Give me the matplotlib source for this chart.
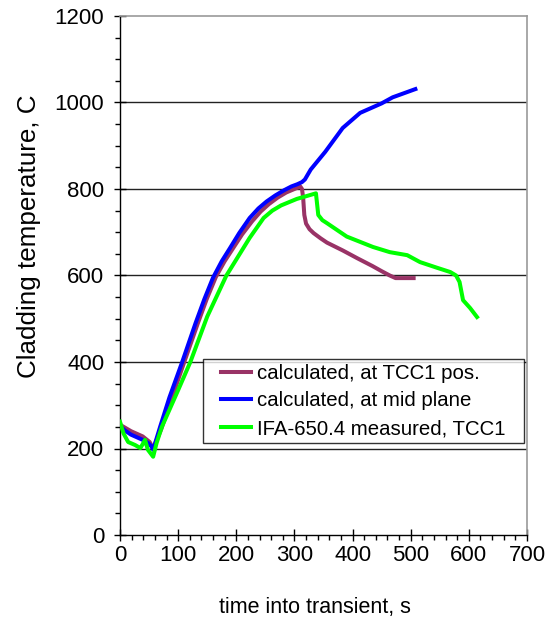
import matplotlib
matplotlib.use("Agg")
import matplotlib.pyplot as plt
from matplotlib.ticker import MultipleLocator
from matplotlib.legend_handler import HandlerLine2D

plt.rcParams['font.family'] = ['Liberation Sans', 'DejaVu Sans']

# calculated, at TCC1 pos.
tcc_x = [0, 19, 39, 51, 57, 71, 90, 110, 134, 149, 165, 180, 194, 210, 227, 242, 256, 271, 286, 300, 310, 313, 315, 317, 320, 326, 333, 345, 356, 383, 408, 434, 450, 464, 474, 505]
tcc_y = [255, 240, 228, 215, 200, 245, 320, 398, 490, 545, 597, 633, 662, 695, 725, 748, 765, 780, 792, 800, 806, 800, 780, 740, 720, 707, 698, 686, 676, 658, 640, 622, 610, 600, 594, 594]

# calculated, at mid plane
mid_x = [0, 8, 19, 29, 39, 49, 54, 57, 69, 85, 107, 130, 145, 160, 175, 189, 205, 223, 238, 252, 267, 282, 295, 305, 313, 318, 328, 353, 383, 413, 450, 469, 508]
mid_y = [252, 242, 232, 226, 220, 212, 205, 197, 250, 318, 400, 490, 545, 595, 633, 663, 698, 733, 755, 771, 785, 797, 806, 811, 816, 822, 845, 886, 941, 976, 998, 1012, 1031]

# IFA-650.4 measured, TCC1
meas_x = [0, 6, 14, 26, 35, 39, 43, 48, 57, 63, 72, 100, 121, 150, 183, 189, 223, 247, 262, 277, 304, 337, 341, 348, 356, 390, 435, 464, 494, 516, 545, 568, 578, 584, 590, 602, 614]
meas_y = [262, 235, 215, 208, 201, 210, 220, 197, 181, 213, 250, 335, 400, 505, 600, 613, 687, 733, 750, 762, 777, 790, 740, 728, 721, 690, 666, 654, 647, 631, 618, 608, 600, 585, 543, 525, 504]

labels = ["calculated, at TCC1 pos.", "calculated, at mid plane", "IFA-650.4 measured, TCC1"]


class OffsetLineHandler(HandlerLine2D):
    """Draw the legend line only on the right part of the handle box."""
    def __init__(self, offset_pt, **kw):
        super().__init__(**kw)
        self.offset_pt = offset_pt

    def create_artists(self, legend, orig_handle, xdescent, ydescent, width, height, fontsize, trans):
        off = self.offset_pt
        return super().create_artists(legend, orig_handle, xdescent - off, ydescent,
                                      width - off, height, fontsize, trans)


fig = plt.figure(figsize=(5.51, 6.21), dpi=100)
ax = fig.add_axes([120/551, 86/621, 407/551, 519/621])

lw = 2.9
l1, = ax.plot(tcc_x, tcc_y, color='#993366', lw=lw, label=labels[0], solid_joinstyle='round', zorder=3)
l2, = ax.plot(mid_x, mid_y, color='#0000FF', lw=lw, label=labels[1], solid_joinstyle='round', zorder=3)
l3, = ax.plot(meas_x, meas_y, color='#00FF00', lw=lw, label=labels[2], solid_joinstyle='round', zorder=4)

ax.set_xlim(0, 700)
ax.set_ylim(0, 1200)
ax.xaxis.set_major_locator(MultipleLocator(100))
ax.xaxis.set_minor_locator(MultipleLocator(20))
ax.yaxis.set_major_locator(MultipleLocator(200))
ax.yaxis.set_minor_locator(MultipleLocator(50))

for yv in [200, 400, 600, 800, 1000]:
    ax.axhline(yv, color='#222222', lw=1.0, zorder=1)

ax.spines['top'].set_color('#999999')
ax.spines['right'].set_color('#999999')
ax.spines['top'].set_linewidth(1.2)
ax.spines['right'].set_linewidth(1.2)
ax.spines['left'].set_linewidth(1.0)
ax.spines['bottom'].set_linewidth(1.0)

ax.tick_params(which='major', direction='inout', length=8.6, width=1.0, labelsize=16)
ax.tick_params(axis='y', which='major', pad=7)
ax.tick_params(axis='x', which='major', pad=3)
ax.tick_params(which='minor', direction='out', length=3.6, width=1.0)
ax.tick_params(top=False, right=False, which='both')

ax.set_xlabel("time into transient, s", fontsize=15.5)
ax.xaxis.set_label_coords(0.479, -0.119)
ax.set_ylabel("Cladding temperature, C", fontsize=18.7)
ax.yaxis.set_label_coords(-0.195, 0.576)

fs = 14.7
hl_pt = 43 * 0.72  # handle box width in points
leg = ax.legend(loc='lower left', bbox_to_anchor=(0.204, 0.177, 0.789, 0.164), mode='expand',
                fontsize=fs, frameon=True, fancybox=False, edgecolor='black',
                handlelength=hl_pt / fs, handletextpad=0.3, borderpad=0.25, labelspacing=0.42,
                borderaxespad=0,
                handler_map={l1: OffsetLineHandler(13 * 0.72),
                             l2: OffsetLineHandler(13 * 0.72),
                             l3: OffsetLineHandler(13 * 0.72)})
leg.get_frame().set_linewidth(1.0)
leg.set_zorder(5)

fig.savefig("out.png", dpi=100, facecolor='white')
